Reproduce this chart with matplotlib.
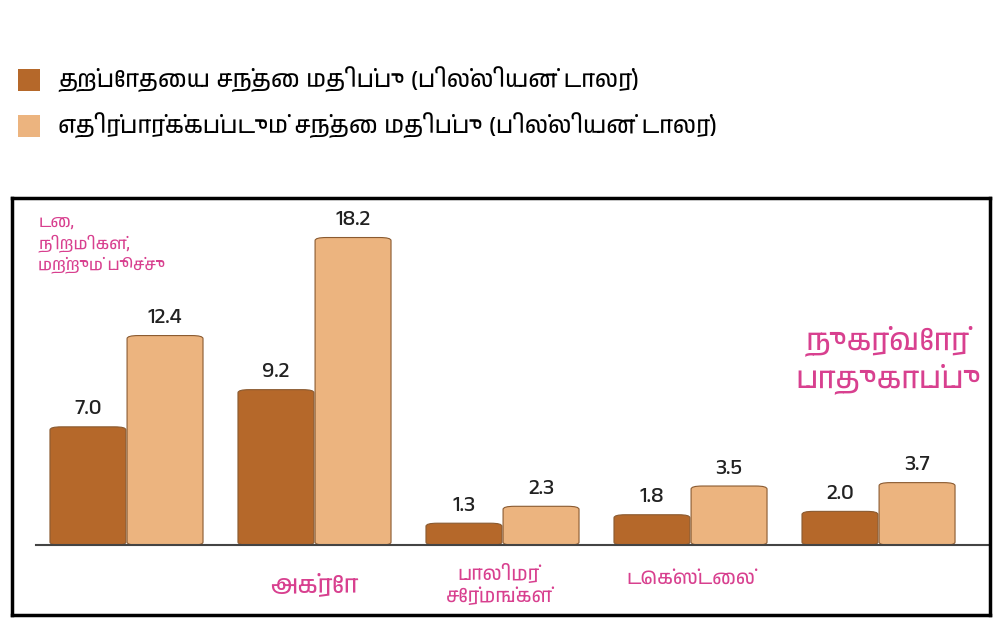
import matplotlib
matplotlib.use("Agg")
import matplotlib.pyplot as plt
from matplotlib.patches import FancyBboxPatch, Rectangle
from matplotlib import font_manager

fams = sorted({f.name for f in font_manager.fontManager.ttflist})
tamil = [f for f in fams if 'Tamil' in f]
plt.rcParams['font.family'] = tamil + ['Noto Sans', 'DejaVu Sans']

categories = ["டை,\nநிறமிகள்,\nமற்றும் பூச்சு", "அக்ரோ", "பாலிமர்\nசேர்மங்கள்", "டெக்ஸ்டைல்", "நுகர்வோர்\nபாதுகாப்பு"]
current = [7.0, 9.2, 1.3, 1.8, 2.0]
expected = [12.4, 18.2, 2.3, 3.5, 3.7]
legend_labels = ["தற்போதைய சந்தை மதிப்பு (பில்லியன் டாலர்)",
                 "எதிர்பார்க்கப்படும் சந்தை மதிப்பு (பில்லியன் டாலர்)"]
dark = "#b5682a"
light = "#ecb47f"
pink = "#d8408f"

fig = plt.figure(figsize=(10, 6.29), dpi=100)
ax = fig.add_axes([0.012, 0.022, 0.978, 0.663])
ax.set_xlim(-0.609, 4.593)
ax.set_ylim(-4.14, 20.53)
ax.set_xticks([]); ax.set_yticks([])
for s in ax.spines.values():
    s.set_linewidth(2.5); s.set_color("black")

w = 0.404
for i, (c, e) in enumerate(zip(current, expected)):
    for x, v, col in [(i - 0.205, c, dark), (i + 0.205, e, light)]:
        p = FancyBboxPatch((x - w/2, 0), w, v, boxstyle="round,pad=0,rounding_size=0.06",
                           mutation_aspect=3.0, fc=col, ec="#8a5a30", lw=0.8)
        ax.add_patch(p)
        ax.text(x, v + 0.5, f"{v:.1f}", ha="center", va="bottom", fontsize=16,
                fontweight="bold", color="#222222")
ax.plot([-0.48, 4.593], [0, 0], color="#444444", lw=1.5)

ax.text(-0.47, 19.5, categories[0], color=pink, fontsize=12, va="top", ha="left", linespacing=1.3)
ax.text(1.0, -2.3, categories[1], color=pink, fontsize=18, ha="center", va="center")
ax.text(1.98, -2.3, categories[2], color=pink, fontsize=14, ha="center", va="center", linespacing=1.2)
ax.text(3.0, -2.0, categories[3], color=pink, fontsize=14, ha="center", va="center")
ax.text(4.05, 11.0, categories[4], color=pink, fontsize=22, ha="center", va="center", linespacing=1.3)

for y, col, lab in [(0.873, dark, legend_labels[0]), (0.80, light, legend_labels[1])]:
    fig.patches.append(Rectangle((0.018, y - 0.018), 0.022, 0.035, transform=fig.transFigure, fc=col, ec="none"))
    fig.text(0.058, y, lab, fontsize=17, fontweight="bold", va="center", ha="left")

fig.savefig("out.png", dpi=100)
